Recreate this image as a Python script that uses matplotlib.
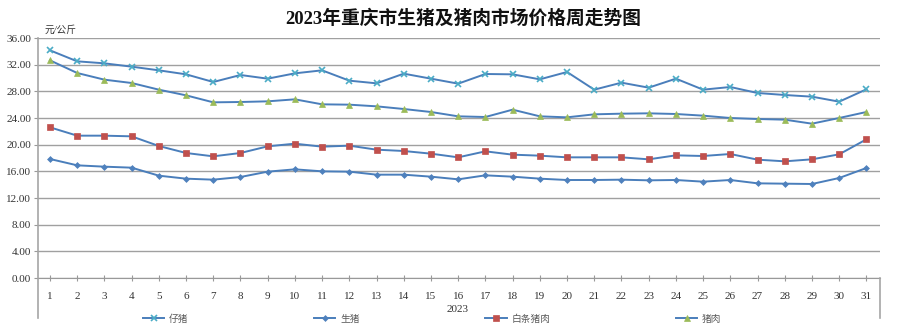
import matplotlib
matplotlib.use("Agg")
import matplotlib.pyplot as plt
from matplotlib.lines import Line2D

plt.rcParams['font.family'] = ['Liberation Serif', 'Noto Sans CJK SC', 'DejaVu Sans']

weeks = list(range(1, 32))

piglet = [34.15, 32.5, 32.2, 31.7, 31.15, 30.55, 29.4, 30.45, 29.9, 30.7,
          31.15, 29.6, 29.2, 30.65, 29.9, 29.15, 30.6, 30.55, 29.8, 30.9,
          28.25, 29.3, 28.55, 29.9, 28.25, 28.65, 27.75, 27.45, 27.2, 26.45, 28.3]
live_hog = [17.85, 16.9, 16.7, 16.55, 15.35, 14.9, 14.75, 15.15, 15.95, 16.3,
            16.0, 15.95, 15.5, 15.5, 15.2, 14.8, 15.4, 15.2, 14.9, 14.7,
            14.7, 14.75, 14.65, 14.7, 14.45, 14.7, 14.2, 14.15, 14.1, 15.0, 16.5]
carcass = [22.6, 21.35, 21.35, 21.25, 19.8, 18.75, 18.25, 18.75, 19.75, 20.15,
           19.7, 19.85, 19.25, 19.05, 18.65, 18.1, 19.0, 18.5, 18.35, 18.1,
           18.1, 18.1, 17.8, 18.4, 18.3, 18.6, 17.75, 17.5, 17.8, 18.55, 20.8]
pork = [32.65, 30.75, 29.75, 29.25, 28.25, 27.4, 26.35, 26.4, 26.5, 26.8,
        26.05, 26.0, 25.75, 25.35, 24.9, 24.25, 24.15, 25.25, 24.25, 24.1,
        24.55, 24.65, 24.7, 24.6, 24.35, 24.0, 23.85, 23.75, 23.15, 24.0, 24.9]

series_names = ["仔猪", "生猪", "白条猪肉", "猪肉"]
yticks = [0, 4, 8, 12, 16, 20, 24, 28, 32, 36]

line_col = "#4a7ebb"
styles = [
    (piglet, "x", "#4bacc6", 5),
    (live_hog, "D", "#4f81bd", 3),
    (carcass, "s", "#c0504d", 4.5),
    (pork, "^", "#9bbb59", 5),
]

fig = plt.figure(figsize=(9, 3.31), dpi=100)
ax = fig.add_axes([38 / 900, 53 / 331, 842 / 900, 240 / 331])

handles = []
for (vals, mk, mc, ms), name in zip(styles, series_names):
    h, = ax.plot(weeks, vals, color=line_col, lw=1.4, marker=mk, markersize=ms,
                 markerfacecolor=mc, markeredgecolor=mc, markeredgewidth=1.2 if mk == "x" else 0.5,
                 label=name, zorder=3)
    handles.append(h)

ax.set_xlim(0.56, 31.5)
ax.set_ylim(0, 36)
ax.set_yticks(yticks)
ax.set_yticklabels([f"{v:.2f}" for v in yticks], fontsize=8, color="#333333")
ax.set_xticks(weeks)
ax.set_xticklabels([str(w) for w in weeks], fontsize=8, color="#333333")
ax.tick_params(axis="x", direction="inout", length=4, color="#999999", pad=8)
ax.tick_params(axis="y", length=3, color="#999999", pad=2)
ax.grid(axis="y", color="#a0a0a0", lw=1.0, zorder=1)
for s in ["top", "right", "left"]:
    ax.spines[s].set_visible(False)
ax.spines["bottom"].set_color("#999999")

# frame lines reaching down past the axis to the legend, as in the original
fig.add_artist(Line2D([38 / 900, 38 / 900], [13 / 331, 293 / 331], color="#a6a6a6", lw=1.2))
fig.add_artist(Line2D([880 / 900, 880 / 900], [13 / 331, 53 / 331], color="#a6a6a6", lw=1.2))

fig.text(463 / 900, 313 / 331, "2023年重庆市生猪及猪肉市场价格周走势图",
         ha="center", va="center", fontsize=13.5, fontweight="bold", color="#111111")
fig.text(45 / 900, 301 / 331, "元/公斤", ha="left", va="center", fontsize=7,
         style="italic", color="#333333")
fig.text(458 / 900, 21 / 331, "2023", ha="center", va="center", fontsize=8, color="#333333")

leg = fig.legend(handles=handles, loc="center left", bbox_to_anchor=(139 / 900, 12 / 331),
                 ncol=4, frameon=False, fontsize=7, handlelength=2.2, handletextpad=0.5,
                 columnspacing=12.9, borderaxespad=0)
for t in leg.get_texts():
    t.set_color("#595959")

fig.savefig("out.png", dpi=100)
